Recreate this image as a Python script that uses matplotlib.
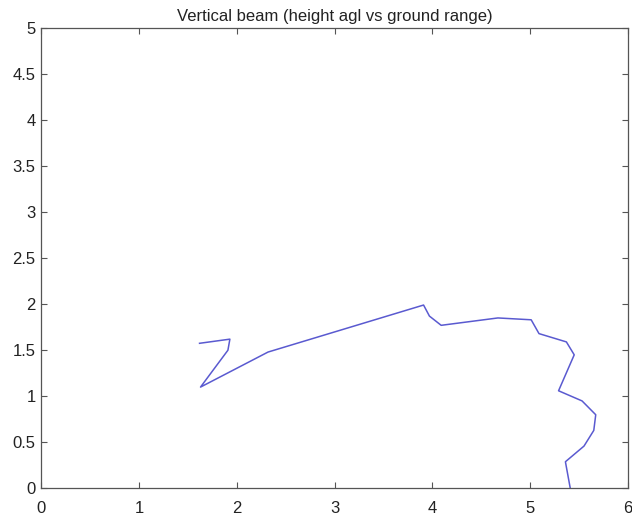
#!/usr/bin/env python3
"""Vertical beam: height agl vs ground range."""

import matplotlib

matplotlib.use("Agg")
import matplotlib.pyplot as plt

# ground range and height above ground level
ground_range = [1.62, 1.93, 1.91, 1.63, 2.32, 3.91, 3.97, 4.09, 4.67, 5.01,
                5.09, 5.37, 5.45, 5.29, 5.53, 5.67, 5.65, 5.55, 5.36, 5.41]
height_agl = [1.575, 1.62, 1.50, 1.10, 1.48, 1.99, 1.87, 1.77, 1.85, 1.83,
              1.68, 1.59, 1.45, 1.06, 0.95, 0.80, 0.63, 0.46, 0.29, 0.0]

x_ticks = [0, 1, 2, 3, 4, 5, 6]
y_ticks = [0, 0.5, 1, 1.5, 2, 2.5, 3, 3.5, 4, 4.5, 5]
y_tick_labels = ["0", "0.5", "1", "1.5", "2", "2.5", "3", "3.5", "4", "4.5", "5"]

plt.rcParams["font.family"] = ["Liberation Sans", "DejaVu Sans"]

fig = plt.figure(figsize=(6.32, 5.2), dpi=100)
ax = fig.add_axes([0.065, 0.0606, 0.9287, 0.8864])

ax.plot(ground_range, height_agl, color="#5a5ad0", linewidth=1.1)

ax.set_xlim(0, 6)
ax.set_ylim(0, 5)
ax.set_xticks(x_ticks)
ax.set_yticks(y_ticks)
ax.set_yticklabels(y_tick_labels)
ax.tick_params(direction="in", top=True, right=True, length=4, width=0.8,
               colors="#555555", labelcolor="#222222", labelsize=12)
ax.tick_params(axis="x", pad=9)
ax.tick_params(axis="y", pad=4)
for spine in ax.spines.values():
    spine.set_color("#555555")
    spine.set_linewidth(0.9)
ax.set_title("Vertical beam (height agl vs ground range)", fontsize=12,
             color="#222222", pad=5)

fig.savefig("out.png", dpi=100)
